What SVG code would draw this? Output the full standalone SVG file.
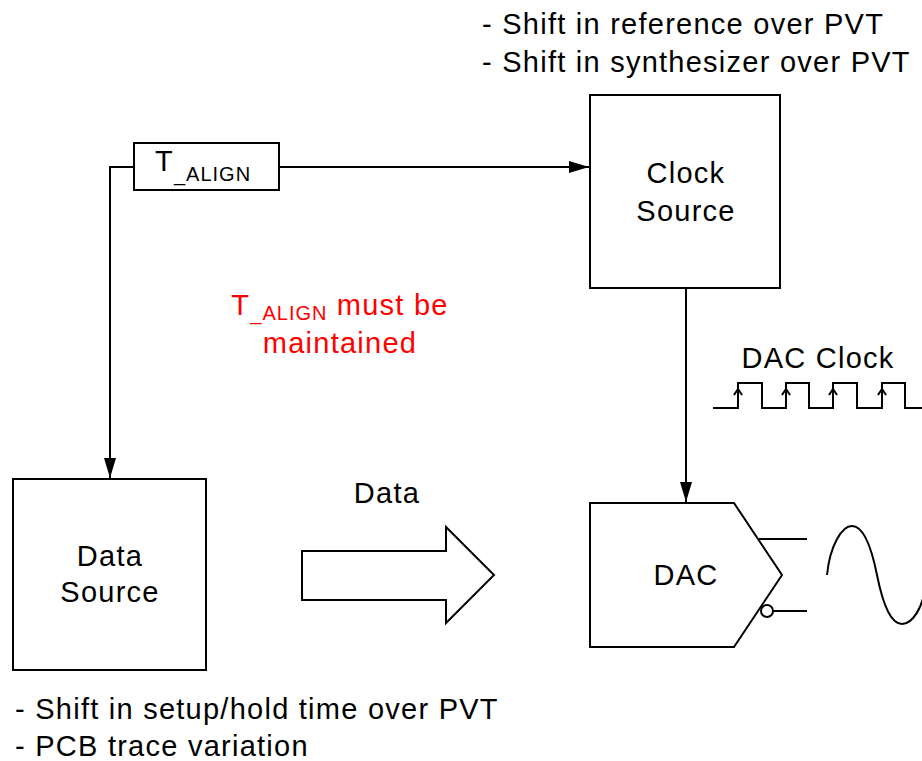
<svg xmlns="http://www.w3.org/2000/svg" width="922" height="761" viewBox="0 0 922 761">
<defs>
<style>
.t{font-family:"Liberation Sans",Arial,sans-serif;font-size:29px;letter-spacing:1.25px;fill:#000}
.r{fill:#ff0000}
.s{font-size:20px;letter-spacing:1px}
.ln{stroke:#000;stroke-width:2;fill:none}
.bx{stroke:#000;stroke-width:2;fill:#fff}
</style>
<marker id="ah" viewBox="0 0 20 12" refX="20" refY="6" markerWidth="20" markerHeight="12" markerUnits="userSpaceOnUse" orient="auto">
<path d="M0,0 L20,6 L0,12 Z" fill="#000"/>
</marker>
</defs>
<rect width="922" height="761" fill="#fff"/>
<g id="connectors">
<path class="ln" d="M279,167 H589" marker-end="url(#ah)"/>
<path class="ln" d="M134,167 H110 V478" marker-end="url(#ah)"/>
<path class="ln" d="M686,288 V502" marker-end="url(#ah)"/>
</g>
<g id="clock-source">
<rect class="bx" x="590" y="95" width="190" height="193"/>
<text class="t" x="686" y="183" text-anchor="middle">Clock</text>
<text class="t" x="686" y="221" text-anchor="middle">Source</text>
</g>
<g id="t-align">
<rect class="bx" x="134" y="143" width="145" height="47"/>
<text class="t" x="155" y="171">T<tspan class="s" dy="10">_ALIGN</tspan></text>
</g>
<g id="data-source">
<rect class="bx" x="13" y="479" width="193" height="191"/>
<text class="t" x="110" y="566" text-anchor="middle">Data</text>
<text class="t" x="110" y="602" text-anchor="middle">Source</text>
</g>
<g id="dac">
<polygon class="bx" points="590,503 734,503 782,575 734,647 590,647"/>
<text class="t" x="686" y="585" text-anchor="middle">DAC</text>
<path class="ln" d="M759,539 H807 M773,611 H807"/>
<circle class="bx" cx="767" cy="611" r="6"/>
<path class="ln" stroke-width="2.5" d="M827,575 C830,545 842,526 852,526 C866,526 874,560 877,575 C880,590 888,624 902,624 C913,624 922,607 925,590"/>
</g>
<g id="data-arrow">
<polygon class="bx" points="302,551 446,551 446,527 494,575 446,623 446,600 302,600"/>
<text class="t" x="387" y="503" text-anchor="middle">Data</text>
</g>
<g id="dac-clock">
<text class="t" x="818" y="368" text-anchor="middle">DAC Clock</text>
<path class="ln" d="M713,408 H738 V383 H762 V408 H786 V383 H809 V408 H833 V383 H857 V408 H882 V383 H905 V408 H922"/>
<path class="ln" stroke-width="1.5" d="M734,395 L738,389 L742,395 M782,395 L786,389 L790,395 M829,395 L833,389 L837,395 M878,395 L882,389 L886,395"/>
</g>
<g id="notes">
<text class="t" x="482" y="34">- Shift in reference over PVT</text>
<text class="t" x="482" y="72">- Shift in synthesizer over PVT</text>
<text class="t" x="15" y="719">- Shift in setup/hold time over PVT</text>
<text class="t" x="15" y="756">- PCB trace variation</text>
<text class="t r" x="340" y="315" text-anchor="middle">T<tspan class="s" dy="5">_ALIGN</tspan><tspan dy="-5"> must be</tspan></text>
<text class="t r" x="340" y="353" text-anchor="middle">maintained</text>
</g>
</svg>
